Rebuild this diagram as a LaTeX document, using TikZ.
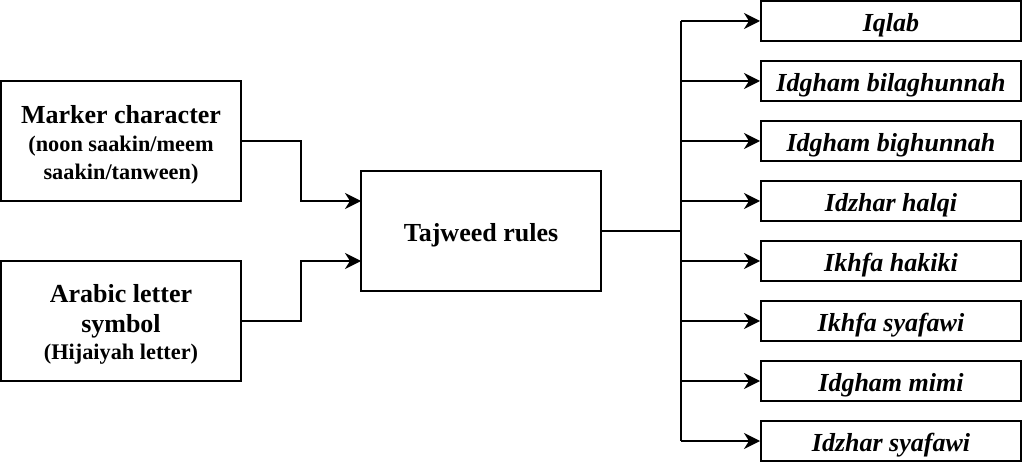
\documentclass[tikz,border=0pt]{standalone}
\usepackage{fontspec}
\setmainfont{Liberation Serif}
\usetikzlibrary{arrows.meta}
\tikzset{
  box/.style={draw, line width=2pt, minimum width=240pt, minimum height=120pt, inner sep=0pt},
  rbox/.style={draw, line width=2pt, minimum width=260pt, minimum height=40pt, inner sep=0pt},
  big/.style={anchor=base, inner sep=0pt, font=\fontsize{26}{28}\selectfont\bfseries},
  small/.style={anchor=base, inner sep=0pt, font=\fontsize{22.3}{28}\selectfont\bfseries},
  rtxt/.style={anchor=base, inner sep=0pt, font=\fontsize{26}{28}\selectfont\bfseries\itshape},
  conn/.style={line width=2pt},
  arr/.style={line width=2pt, -{Stealth[length=16pt,width=16pt,inset=5pt]}}
}
\begin{document}
\begin{tikzpicture}[x=1pt,y=-1pt]
\useasboundingbox (0,0) rectangle (1022,462);
% left boxes
\node[box] (marker) at (121,141) {};
\node[big] (m1) at (121,124) {Marker character};
\node[small] (m2) at (121,152) {(noon saakin/meem};
\node[small] (m3) at (121,180) {saakin/tanween)};
\node[box] (arabic) at (121,321) {};
\node[big] (a1) at (121,302) {Arabic letter};
\node[big] (a2) at (121,332) {symbol};
\node[small] (a3) at (121,359) {(Hijaiyah letter)};
% center
\node[box] (taj) at (481,231) {};
\node[big] (t1) at (481,241.7) {Tajweed rules};
% right boxes
\foreach \i/\t in {0/Iqlab,1/Idgham bilaghunnah,2/Idgham bighunnah,3/Idzhar halqi,4/Ikhfa hakiki,5/Ikhfa syafawi,6/Idgham mimi,7/Idzhar syafawi}{
  \node[rbox] (r\i) at (891,{21+60*\i}) {};
  \node[rtxt] (rt\i) at (891,{31.7+60*\i}) {\t};
}
% coordinates
\coordinate (jl1) at (301,141);
\coordinate (jl2) at (301,321);
\coordinate (in1) at (361,201);
\coordinate (in2) at (361,261);
\coordinate (jr) at (681,231);
\coordinate (jtop) at (681,21);
\coordinate (jbot) at (681,441);
% connectors
\draw[arr] (marker.east) -- (jl1) |- (in1);
\draw[arr] (arabic.east) -- (jl2) |- (in2);
\draw[conn] (taj.east) -- (jr);
\draw[conn] (jtop) -- (jbot);
\foreach \i in {0,...,7}{
  \draw[arr] (681,{21+60*\i}) -- (r\i.west);
}
\end{tikzpicture}
\end{document}
